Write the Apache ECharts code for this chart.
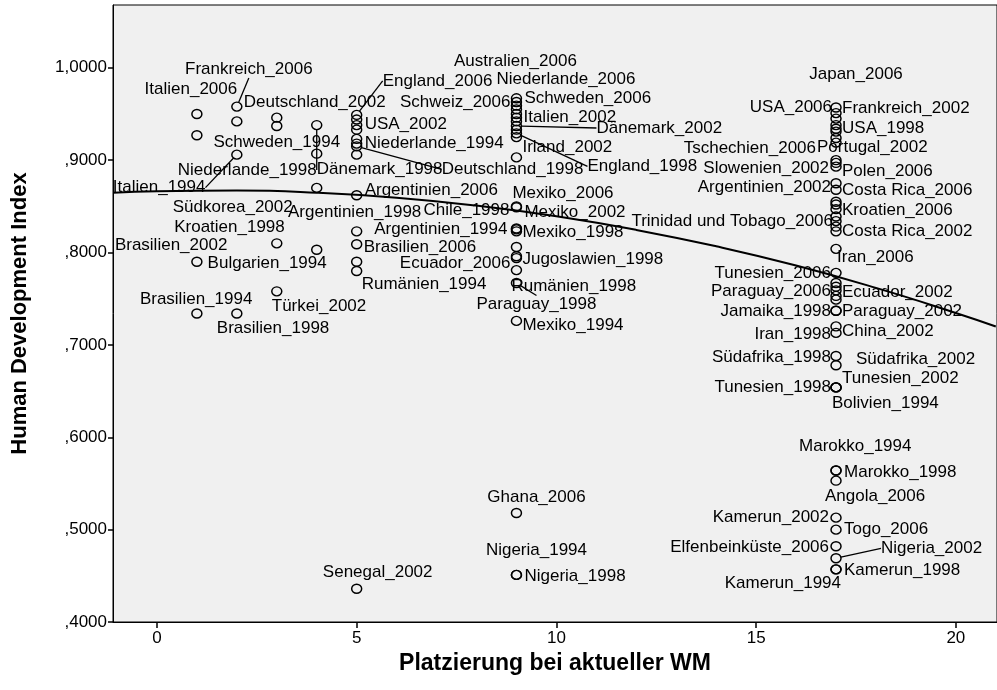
<!DOCTYPE html>
<html>
<head>
<meta charset="utf-8">
<script src="https://cdn.jsdelivr.net/npm/echarts@6/dist/echarts.min.js"></script>
<style>html,body{margin:0;padding:0;background:#fff}#c{width:997px;height:690px}</style>
</head>
<body>
<div id="c"></div>
<script>
// ---- data ----
const placement = [
  1,1,1,1,
  2,2,2,2,
  3,3,3,3,
  4,4,4,4,
  5,5,5,5,5,5,5,5,5,5,5,5,5,5,
  9,9,9,9,9,9,9,9,9,9,9,9,9,9,9,9,9,9,9,9,9,9,9,9,9,9,
  17,17,17,17,17,17,17,17,17,17,17,17,17,17,17,17,17,17,17,17,17,17,17,17,17,17,17,17,17,17,17,17,17,17,17,17,17,17,17,17,17,17,17,17,17
];
const hdi = [
  0.950,0.927,0.790,0.734,
  0.958,0.942,0.906,0.734,
  0.946,0.937,0.810,0.758,
  0.938,0.907,0.870,0.803,
  0.949,0.944,0.938,0.933,0.923,0.918,0.915,0.906,0.862,0.823,0.809,0.790,0.780,0.436,
  0.967,0.963,0.959,0.955,0.950,0.946,0.942,0.937,0.933,0.929,0.925,0.903,0.850,0.849,0.826,0.825,0.823,0.806,0.796,0.794,0.781,0.767,0.726,0.518,0.451,0.451,
  0.957,0.951,0.945,0.938,0.934,0.931,0.924,0.919,0.900,0.897,0.893,0.875,0.868,0.855,0.852,0.847,0.839,0.834,0.828,0.823,0.804,0.778,0.767,0.763,0.759,0.753,0.749,0.737,0.737,0.720,0.713,0.688,0.678,0.654,0.654,0.654,0.564,0.564,0.553,0.513,0.500,0.482,0.469,0.457,0.457
];
const country = [
  'Italien_2006','','Brasilien_2002','Brasilien_1994',
  'Frankreich_2006','Deutschland_2002','Italien_1994','Brasilien_1998',
  '','Schweden_1994','Kroatien_1998','Türkei_2002',
  'Niederlande_1998','','Südkorea_2002','Bulgarien_1994',
  'England_2006','','USA_2002','','','Niederlande_1994','Deutschland_1998','Dänemark_1998','Argentinien_2006','Argentinien_1998','Brasilien_2006','','Rumänien_1994','Senegal_2002',
  'Schweden_2006','Schweiz_2006','Niederlande_2006','Australien_2006','','Italien_2002','','Dänemark_2002','','England_1998','Irland_2002','','Mexiko_2006','Chile_1998','Mexiko_2002','Argentinien_1994','Mexiko_1998','','Ecuador_2006','Jugoslawien_1998','Rumänien_1998','Paraguay_1998','Mexiko_1994','Ghana_2006','Nigeria_1998','Nigeria_1994',
  'Frankreich_2002','USA_2006','Japan_2006','USA_1998','','','Tschechien_2006','Portugal_2002','Slowenien_2002','','Polen_2006','Argentinien_2002','Costa Rica_2006','','','Kroatien_2006','','Trinidad und Tobago_2006','','Costa Rica_2002','Iran_2006','Tunesien_2006','','','Paraguay_2006','Ecuador_2002','','Jamaika_1998','Paraguay_2002','China_2002','Iran_1998','Südafrika_1998','Südafrika_2002','Tunesien_1998','Tunesien_2002','Bolivien_1994','Marokko_1998','Marokko_1994','Angola_2006','Kamerun_2002','Togo_2006','Elfenbeinküste_2006','Nigeria_2002','Kamerun_1998','Kamerun_1994'
];
// fitted curve
const fitX = [-1.1, 0, 2, 4, 6, 8, 10, 12, 14, 16, 18, 20, 21];
const fitY = [0.8646, 0.8663, 0.8671, 0.8648, 0.8594, 0.8508, 0.8392, 0.8245, 0.8067, 0.7859, 0.7617, 0.7346, 0.7199];
const yTicks = [0.4, 0.5, 0.6, 0.7, 0.8, 0.9, 1.0];
const xTicks = [0, 5, 10, 15, 20];

// ---- label placement (style): [anchor, dx, dy, leaderLine] ----
const labelPlace = {
  'Italien_2006':['C',-6,-25],'Brasilien_2002':['L',-82,-16],'Brasilien_1994':['L',-57,-14],
  'Frankreich_2006':['C',12,-37,1],'Deutschland_2002':['L',7,-19],'Italien_1994':['L',-124,33,1],'Brasilien_1998':['L',-20,15],
  'Schweden_1994':['C',0,16],'Kroatien_1998':['R',8,-16],'Türkei_2002':['L',-5,15],
  'Niederlande_1998':['R',0,45,1],'Südkorea_2002':['R',-24,19],'Bulgarien_1994':['R',10,14],
  'England_2006':['L',26,-34,1],'USA_2002':['L',8,-1],'Niederlande_1994':['L',8,0],'Deutschland_1998':['L',85,23,1],
  'Dänemark_1998':['C',23,15],'Argentinien_2006':['L',8,-5],'Argentinien_1998':['C',-2,-19],'Brasilien_2006':['L',7,3],
  'Rumänien_1994':['L',5,13],'Senegal_2002':['C',21,-16],
  'Schweden_2006':['L',8,0],'Schweiz_2006':['R',-6,0],'Niederlande_2006':['L',-20,-26],'Australien_2006':['C',-1,-48],
  'Italien_2002':['L',7,0],'Dänemark_2002':['L',80,2,1],'England_1998':['L',71,33,1],'Irland_2002':['L',6,10],
  'Mexiko_2006':['L',-4,-13],'Chile_1998':['R',-7,3],'Mexiko_2002':['L',8,-16],'Argentinien_1994':['R',-9,0],
  'Mexiko_1998':['L',6,1],'Ecuador_2006':['R',-6,7],'Jugoslawien_1998':['L',6,1],'Rumänien_1998':['L',-5,16],
  'Paraguay_1998':['C',20,21,1],'Mexiko_1994':['L',6,4],'Ghana_2006':['C',20,-16],'Nigeria_1998':['L',8,1],'Nigeria_1994':['C',20,-25],
  'Frankreich_2002':['L',6,1],'USA_2006':['R',-4,-6],'Japan_2006':['C',20,-44],'USA_1998':['L',6,3],
  'Tschechien_2006':['R',-20,10],'Portugal_2002':['L',-19,5],'Slowenien_2002':['R',-7,8],'Polen_2006':['L',6,5],
  'Argentinien_2002':['R',-5,4],'Costa Rica_2006':['L',6,1],'Kroatien_2006':['L',6,1],'Trinidad und Tobago_2006':['R',-3,0],
  'Costa Rica_2002':['L',6,0],'Iran_2006':['L',1,8],'Tunesien_2006':['R',-5,0],'Paraguay_2006':['R',-5,1],
  'Ecuador_2002':['L',6,-4],'Jamaika_1998':['R',-5,1],'Paraguay_2002':['L',6,1],'China_2002':['L',6,5],
  'Iran_1998':['R',-5,1],'Südafrika_1998':['R',-5,1],'Südafrika_2002':['L',20,-6],'Tunesien_1998':['R',-5,0],
  'Tunesien_2002':['L',6,-9],'Bolivien_1994':['L',-4,16],'Marokko_1998':['L',8,2],'Marokko_1994':['L',-37,-24],
  'Angola_2006':['L',-11,16],'Kamerun_2002':['R',-7,0],'Togo_2006':['L',8,0],'Elfenbeinküste_2006':['R',-7,1],
  'Nigeria_2002':['L',45,-10,1],'Kamerun_1998':['L',8,1],'Kamerun_1994':['R',5,14]
};
const ALIGN = {L:'left', R:'right', C:'center'};

const points = placement.map((x, i) => {
  const nm = country[i];
  const lp = labelPlace[nm];
  const item = { value: [x, hdi[i]], name: nm };
  item.label = { show: !!nm };
  item.labelLine = { show: !!(lp && lp[3]) };
  return item;
});

const fitData = fitX.map((x, i) => [x, fitY[i]]);

const chart = echarts.init(document.getElementById('c'), null, {renderer: 'canvas'});
const labelFont = "'Liberation Sans', Arial, sans-serif";
chart.setOption({
  animation: false,
  backgroundColor: '#ffffff',
  grid: {
    left: 113, right: -1, top: 5, bottom: 68,
    show: true, backgroundColor: '#f0f0f0', borderColor: '#000', borderWidth: 1
  },
  xAxis: {
    type: 'value', min: -1.1, max: 21.03,
    name: 'Platzierung bei aktueller WM', nameLocation: 'middle', nameGap: 30,
    nameTextStyle: { fontFamily: labelFont, fontWeight: 'bold', fontSize: 23, color: '#000' },
    axisLine: { show: true, onZero: false, lineStyle: { color: '#000', width: 1 } },
    axisTick: { show: true, length: 6, customValues: xTicks, lineStyle: { color: '#000', width: 1.5 } },
    axisLabel: { customValues: xTicks, margin: 8, fontFamily: labelFont, fontSize: 17, color: '#000' },
    splitLine: { show: false }
  },
  yAxis: {
    type: 'value', min: 0.4, max: 1.068,
    name: 'Human Development Index', nameLocation: 'middle', nameGap: 82,
    nameTextStyle: { fontFamily: labelFont, fontWeight: 'bold', fontSize: 22, color: '#000' },
    axisLine: { show: true, onZero: false, lineStyle: { color: '#000', width: 1 } },
    axisTick: { show: true, length: 5, customValues: yTicks, lineStyle: { color: '#000', width: 1.5 } },
    axisLabel: {
      customValues: yTicks, margin: 6, fontFamily: labelFont, fontSize: 17, color: '#000',
      formatter: v => { let s = Number(v).toFixed(4).replace('.', ','); return s.charAt(0) === '0' ? s.slice(1) : s; }
    },
    splitLine: { show: false }
  },
  series: [
    {
      type: 'line', data: fitData, smooth: true, showSymbol: false, silent: true, z: 2,
      lineStyle: { color: '#000', width: 2 }
    },
    {
      type: 'scatter', data: points, z: 3,
      symbol: 'circle', symbolSize: [10, 9],
      itemStyle: { color: 'rgba(0,0,0,0)', borderColor: '#000', borderWidth: 1.4, opacity: 1 },
      label: {
        show: true, position: 'right', formatter: p => p.name,
        fontFamily: labelFont, fontSize: 17, color: '#000'
      },
      labelLine: { show: false, lineStyle: { color: '#000', width: 1.3 } },
      labelLayout: function (p) {
        const lp = labelPlace[country[p.dataIndex]];
        if (!lp) return {};
        const cx = p.rect.x + p.rect.width / 2;
        const cy = p.rect.y + p.rect.height / 2;
        return { x: cx + lp[1], y: cy + lp[2], align: ALIGN[lp[0]], verticalAlign: 'middle' };
      }
    }
  ]
});
</script>
</body>
</html>
